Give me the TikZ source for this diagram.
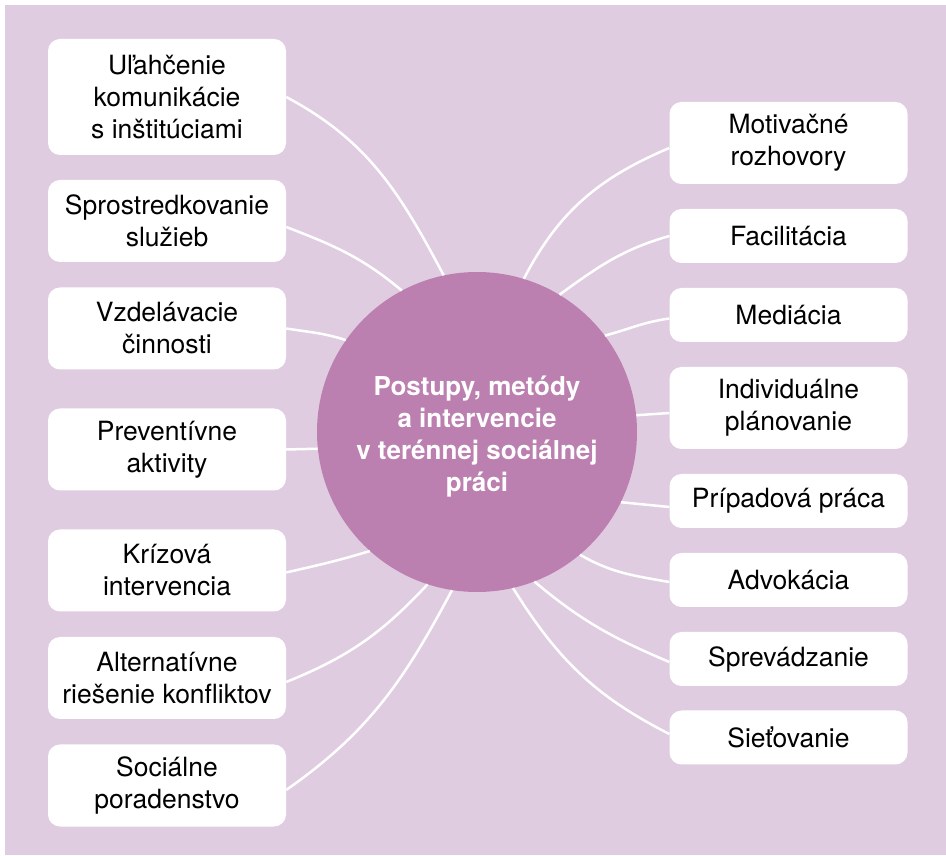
\documentclass[tikz,border=0pt]{standalone}
\usepackage{fontspec}
\setmainfont{TeX Gyre Heros}
\definecolor{bgpink}{RGB}{224,204,224}
\definecolor{hubpurple}{RGB}{188,128,176}
\begin{document}
\begin{tikzpicture}[x=1pt,y=1pt,
  itembox/.style={draw=none,fill=white,rounded corners=12pt,minimum width=238pt,
    inner sep=0pt,align=center,font=\fontsize{26.5}{32}\selectfont,text=black},
  one/.style={itembox,minimum height=54pt},
  two/.style={itembox,minimum height=82pt},
  three/.style={itembox,minimum height=116pt},
  hub/.style={circle,fill=hubpurple,minimum size=320pt,inner sep=0pt},
  link/.style={draw=white,line width=2.5pt}]
\useasboundingbox (0,0) rectangle (946,855);
\fill[bgpink] (5,0) rectangle (946,850);

% central topic
\node[hub] (c) at (477,423) {};
\node[align=center,text=white,font=\bfseries\fontsize{26}{32}\selectfont] (ctitle) at (477,418)
  {Postupy, metódy\\a intervencie\\v terénnej sociálnej\\práci};

% left column
\node[three] (l1) at (167,758)   {Uľahčenie\\komunikácie\\s inštitúciami};
\node[two]   (l2) at (167,634)   {Sprostredkovanie\\služieb};
\node[two]   (l3) at (167,526.5) {Vzdelávacie\\činnosti};
\node[two]   (l4) at (167,405.5) {Preventívne\\aktivity};
\node[two]   (l5) at (167,284.5) {Krízová\\intervencia};
\node[two]   (l6) at (167,177)   {Alternatívne\\riešenie konfliktov};
\node[two]   (l7) at (167,69.5)  {Sociálne\\poradenstvo};

% right column
\node[two] (r1) at (788.5,712)   {Motivačné\\rozhovory};
\node[one] (r2) at (788.5,619)   {Facilitácia};
\node[one] (r3) at (788.5,540)   {Mediácia};
\node[two] (r4) at (788.5,447)   {Individuálne\\plánovanie};
\node[one] (r5) at (788.5,354)   {Prípadová práca};
\node[one] (r6) at (788.5,275)   {Advokácia};
\node[one] (r7) at (788.5,196)   {Sprevádzanie};
\node[one] (r8) at (788.5,117.5) {Sieťovanie};

% connectors from the boxes to the hub
\draw[link] (l1.east) to[out=-28,in=118] (c.102.4);
\draw[link] ([yshift=-6pt]l2.east) to[out=-21,in=140] (c.118.2);
\draw[link] (l3.east) to[out=-9,in=162] (c.145.6);
\draw[link] (l4.east) -- (c.186.1);
\draw[link] ([yshift=-2pt]l5.east) to[out=13,in=197] (c.228.3);
\draw[link] ([yshift=-4pt]l6.east) to[out=22,in=227] (c.252.7);
\draw[link] ([yshift=-4.5pt]l7.east) to[out=35,in=242] (c.261);

\draw[link] ([yshift=-5pt]r1.west) to[out=203,in=62.6] (c.73.6);
\draw[link] (r2.west) to[out=196,in=36] (c.59.8);
\draw[link] ([yshift=-3.5pt]r3.west) to[out=188,in=15] (c.37.9);
\draw[link] ([yshift=-5pt]r4.west) -- (c.6.5);
\draw[link] ([yshift=-6pt]r5.west) -- (c.-26);
\draw[link] ([yshift=-2pt]r6.west) to[out=170,in=-30] (c.-50.8);
\draw[link] ([yshift=-3pt]r7.west) to[out=157,in=-40] (c.-69.3);
\draw[link] ([yshift=3.5pt]r8.west) to[out=153,in=-58] (c.-77);
\end{tikzpicture}
\end{document}
